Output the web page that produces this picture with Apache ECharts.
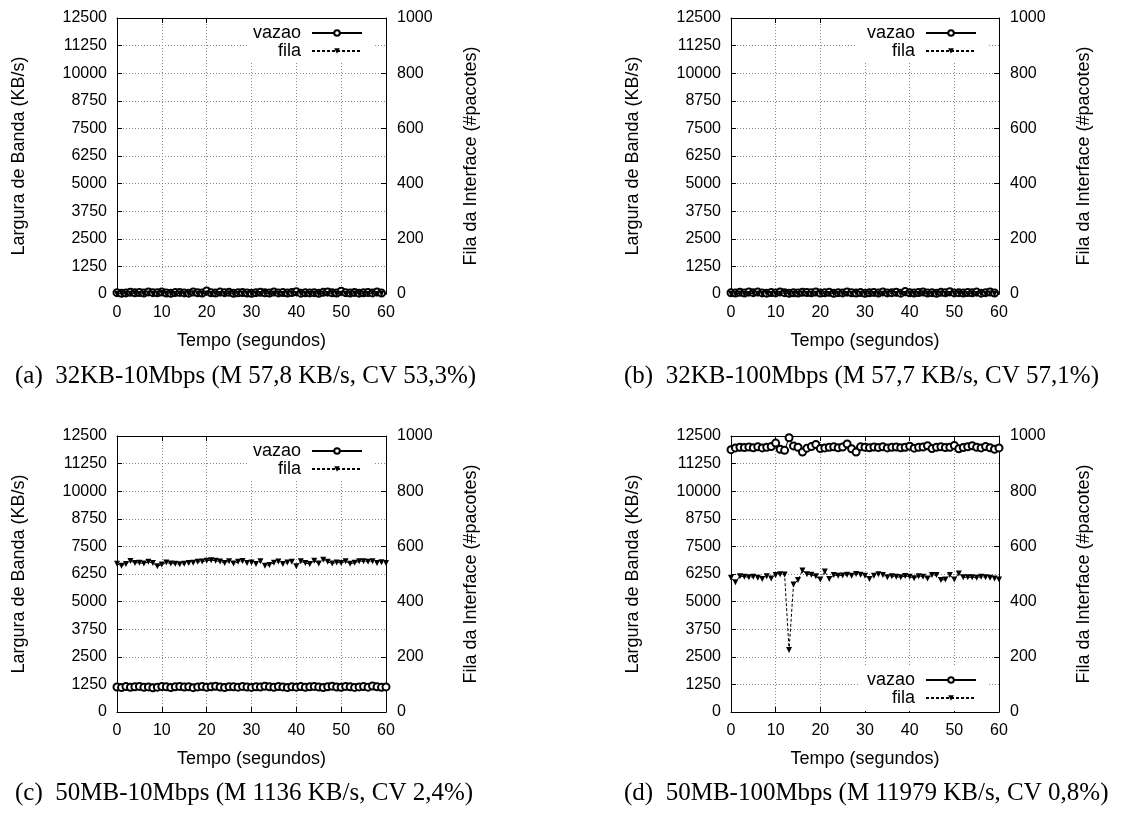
<!DOCTYPE html>
<html>
<head>
<meta charset="utf-8">
<script src="https://cdn.jsdelivr.net/npm/echarts@6/dist/echarts.min.js"></script>
<style>html,body{margin:0;padding:0;background:#fff;}#c{width:1133px;height:816px;}</style>
</head>
<body>
<div id="c"></div>
<script>
// ---- data ----
const tempo = [0,1,2,3,4,5,6,7,8,9,10,11,12,13,14,15,16,17,18,19,20,21,22,23,24,25,26,27,28,29,30,31,32,33,34,35,36,37,38,39,40,41,42,43,44,45,46,47,48,49,50,51,52,53,54,55,56,57,58,59,60];
const xTicks = [0,10,20,30,40,50,60];
const leftTicks = [0,1250,2500,3750,5000,6250,7500,8750,10000,11250,12500];
const rightTicks = [0,200,400,600,800,1000];

const vazaoA = [62,35,48,80,55,70,40,95,60,52,88,45,30,65,72,50,38,90,58,44,140,55,42,85,60,75,35,52,68,47,30,62,80,55,40,92,50,65,45,70,100,38,58,48,62,36,75,90,55,42,130,60,45,72,38,55,66,50,95,40];
const filaA = [0,2,0,1,3,0,0,2,1,0,4,0,1,0,2,0,0,3,1,0,2,0,1,0,0,3,0,1,2,0,0,1,0,4,0,2,0,0,1,3,0,2,0,0,1,0,2,0,3,0,1,0,0,2,0,1,0,3,0,1];

const vazaoB = [55,40,78,45,92,60,85,50,38,70,48,95,62,35,58,44,80,66,52,90,42,58,75,36,60,48,88,55,40,65,30,58,72,45,95,50,62,80,38,110,55,42,68,90,46,60,35,75,58,100,48,62,40,70,52,85,38,60,90,45];
const filaB = [1,0,2,0,0,3,1,0,2,0,0,1,4,0,1,0,2,0,0,1,3,0,0,2,0,1,0,0,3,1,0,2,0,0,1,0,4,0,1,0,2,0,0,3,0,1,0,2,0,0,1,3,0,0,2,0,1,0,2,0];

const vazaoC = [1130,1105,1150,1120,1142,1160,1118,1135,1098,1125,1150,1140,1112,1138,1160,1128,1145,1102,1135,1155,1120,1140,1165,1130,1110,1148,1138,1125,1160,1132,1115,1145,1128,1170,1140,1120,1152,1135,1108,1142,1125,1150,1118,1138,1160,1128,1110,1145,1170,1132,1120,1158,1140,1115,1135,1150,1125,1178,1140,1118,1135];
const filaC = [537,530,536,547,540,541,538,544,540,528,534,542,538,537,535,537,540,541,544,545,548,550,548,545,540,546,538,544,547,540,542,536,546,530,533,541,545,536,542,544,528,546,540,536,548,538,552,544,538,542,540,546,537,541,546,546,544,546,540,543,540];

const vazaoD = [11880,11960,11990,11980,12000,11970,12010,11960,11990,12020,12180,11900,11850,12420,12050,11990,11770,11950,12020,12120,11930,11960,11990,12010,11970,12000,12140,11920,11770,12010,11990,11970,12000,11980,12010,11960,11990,12000,11970,11990,12040,11950,11990,12000,12060,11930,11990,12010,11980,11990,12070,11920,11980,12010,12060,11990,11960,12020,11970,11900,11960];
const filaD = [486,470,492,490,488,490,486,482,492,484,496,499,498,225,462,478,513,499,497,492,480,509,482,496,494,495,497,494,500,497,494,482,494,499,496,488,492,490,488,493,490,485,492,490,484,496,496,478,480,496,480,502,488,488,488,486,490,488,486,484,480];

const captions = [
  '(a)  32KB-10Mbps (M 57,8 KB/s, CV 53,3%)',
  '(b)  32KB-100Mbps (M 57,7 KB/s, CV 57,1%)',
  '(c)  50MB-10Mbps (M 1136 KB/s, CV 2,4%)',
  '(d)  50MB-100Mbps (M 11979 KB/s, CV 0,8%)'
];
const seriesNames = ['vazao', 'fila'];
const leftName = 'Largura de Banda (KB/s)';
const rightName = 'Fila da Interface (#pacotes)';
const xName = 'Tempo (segundos)';

// ---- layout ----
const panels = [
  {left: 117, top: 18, width: 269, v: vazaoA, f: filaA, leg: {left: 247, top: 19, pad: [5, 12, 1, 6]}, cap: {left: 15, top: 364}},
  {left: 731, top: 18, width: 268, v: vazaoB, f: filaB, leg: {left: 857, top: 19, pad: [5, 12, 1, 10]}, cap: {left: 624, top: 364}},
  {left: 117, top: 436, width: 269, v: vazaoC, f: filaC, leg: {left: 247, top: 437, pad: [5, 12, 1, 6]}, cap: {left: 15, top: 781}},
  {left: 731, top: 436, width: 268, v: vazaoD, f: filaD, leg: {left: 859, top: 667, pad: [4, 11, 4, 8]}, cap: {left: 624, top: 781}}
];
const H = 276;
const FONT = 'Liberation Sans';

function pairs(xs, ys) { return ys.map((y, i) => [xs[i], y]); }
const plain = v => String(v);

const grid = [], xAxis = [], yAxis = [], series = [], legend = [], title = [];
const gridLine = {show: true, lineStyle: {color: '#888', type: [1, 2], width: 1}};
const axisLineK = {show: true, onZero: false, lineStyle: {color: '#000', width: 1}};
const tickIn = {show: true, inside: true, length: 5, lineStyle: {color: '#000'}};
const lbl = {color: '#000', fontFamily: FONT, fontSize: 16, formatter: plain};
const nameStyle = {fontFamily: FONT, fontSize: 18, color: '#000'};

panels.forEach((p, i) => {
  grid.push({left: p.left, top: p.top, width: p.width, height: H, containLabel: false});
  title.push({text: captions[i], left: p.cap.left, top: p.cap.top, padding: 0,
    textStyle: {fontFamily: 'Liberation Serif', fontSize: 25, fontWeight: 'normal', color: '#000'}});
  legend.push({data: seriesNames, orient: 'vertical', align: 'right', left: p.leg.left, top: p.leg.top,
    padding: p.leg.pad, itemGap: 0, itemWidth: 50, itemHeight: 7, backgroundColor: '#fff',
    selectedMode: false,
    textStyle: {fontFamily: FONT, fontSize: 18, color: '#000', lineHeight: 18, padding: [0, 6, 0, 0]}});
});
// bottom x axes
panels.forEach((p, i) => {
  xAxis.push({gridIndex: i, type: 'value', min: xTicks[0], max: xTicks[xTicks.length - 1], interval: xTicks[1] - xTicks[0],
    position: 'bottom', axisLine: axisLineK, axisTick: tickIn, splitLine: gridLine,
    axisLabel: Object.assign({margin: 11}, lbl),
    name: xName, nameLocation: 'middle', nameGap: 38, nameTextStyle: nameStyle});
});
// top mirrored x axes
panels.forEach((p, i) => {
  xAxis.push({gridIndex: i, type: 'value', min: xTicks[0], max: xTicks[xTicks.length - 1], interval: xTicks[1] - xTicks[0],
    position: 'top', axisLine: axisLineK, axisTick: tickIn, splitLine: {show: false}, axisLabel: {show: false}});
});
// left y axes
panels.forEach((p, i) => {
  yAxis.push({gridIndex: i, type: 'value', min: leftTicks[0], max: leftTicks[leftTicks.length - 1], interval: leftTicks[1] - leftTicks[0],
    position: 'left', axisLine: axisLineK, axisTick: tickIn, splitLine: gridLine,
    axisLabel: Object.assign({margin: 10}, lbl),
    name: leftName, nameLocation: 'middle', nameRotate: 90, nameGap: 89, nameTextStyle: nameStyle});
});
// right y axes
panels.forEach((p, i) => {
  yAxis.push({gridIndex: i, type: 'value', min: rightTicks[0], max: rightTicks[rightTicks.length - 1], interval: rightTicks[1] - rightTicks[0],
    position: 'right', axisLine: axisLineK, axisTick: tickIn, splitLine: {show: false},
    axisLabel: Object.assign({margin: 11}, lbl),
    name: rightName, nameLocation: 'middle', nameRotate: 90, nameGap: 76, nameTextStyle: nameStyle});
});
panels.forEach((p, i) => {
  series.push({name: seriesNames[0], type: 'line', xAxisIndex: i, yAxisIndex: i, data: pairs(tempo, p.v),
    symbol: 'emptyCircle', symbolSize: 7, showAllSymbol: true, animation: false,
    lineStyle: {color: '#000', width: 1}, itemStyle: {color: '#000', borderColor: '#000', borderWidth: 1}, z: 3});
  series.push({name: seriesNames[1], type: 'line', xAxisIndex: i, yAxisIndex: 4 + i, data: pairs(tempo, p.f),
    symbol: 'triangle', symbolRotate: 180, symbolSize: 6, showAllSymbol: true, animation: false,
    lineStyle: {color: '#000', width: 1, type: [3, 2]}, itemStyle: {color: '#000'}, z: 4});
});

const chart = echarts.init(document.getElementById('c'), null, {renderer: 'canvas'});
chart.setOption({animation: false, backgroundColor: '#fff', title, grid, xAxis, yAxis, legend, series});
</script>
</body>
</html>
